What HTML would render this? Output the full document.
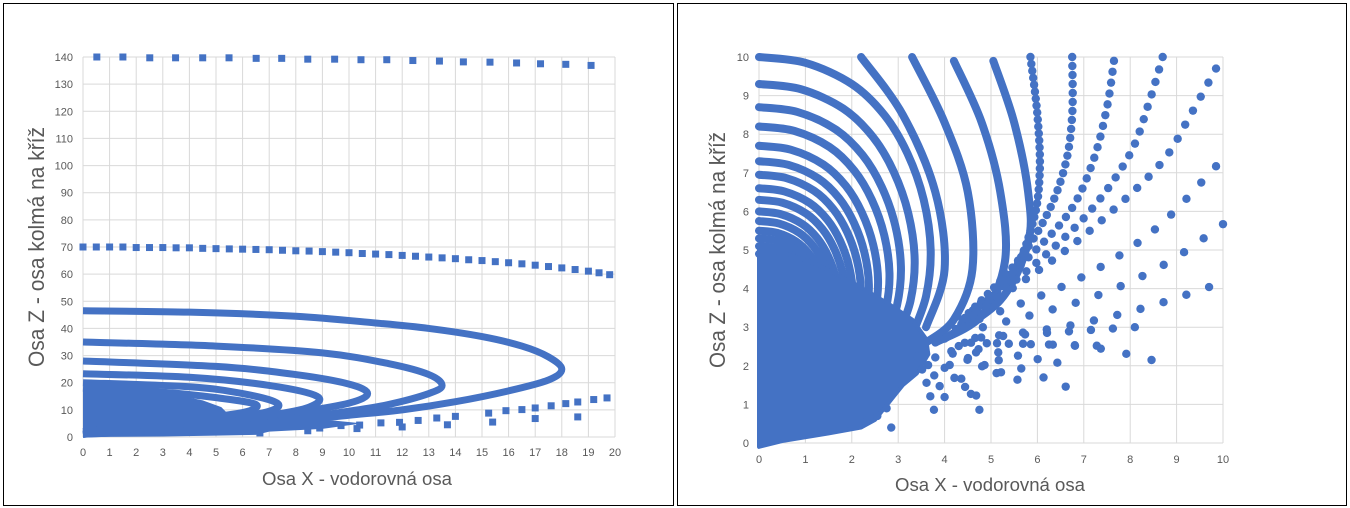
<!DOCTYPE html>
<html><head><meta charset="utf-8">
<style>
html,body{margin:0;padding:0;background:#fff;}
svg{display:block;font-family:"Liberation Sans",sans-serif;}
</style></head>
<body>
<svg id="chart" width="1350" height="508" viewBox="0 0 1350 508">
<rect x="0" y="0" width="1350" height="508" fill="#fff"/>
<rect x="3.5" y="3.5" width="670" height="502" fill="#fff" stroke="#000" stroke-width="1"/>
<rect x="677.5" y="3.5" width="669" height="502" fill="#fff" stroke="#000" stroke-width="1"/>
<g id="L"></g>
<g id="R"></g>
</svg>
<script>
// ---------- LEFT CHART DATA ----------
const leftXTicks = [0,1,2,3,4,5,6,7,8,9,10,11,12,13,14,15,16,17,18,19,20];
const leftZTicks = [0,10,20,30,40,50,60,70,80,90,100,110,120,130,140];
const topRowX = [0.52,1.5,2.51,3.48,4.5,5.49,6.51,7.47,8.45,9.46,10.45,11.42,12.4,13.4,14.3,15.3,16.3,17.2,18.15,19.1];
const topRowZ = [140,140,139.7,139.7,139.7,139.7,139.5,139.5,139.2,139.2,139,139,138.7,138.5,138.2,138.1,137.8,137.5,137.3,136.9];
const row70X = [0,0.5,1,1.5,2,2.5,3,3.5,4,4.5,5,5.5,6,6.5,7,7.5,8,8.5,9,9.5,10,10.5,11,11.5,12,12.5,13,13.5,14,14.5,15,15.5,16,16.5,17,17.5,18,18.5,19,19.4,19.8];
const row70Z = [70,70,70,70,69.8,69.8,69.8,69.7,69.7,69.5,69.4,69.3,69.2,69.1,69,68.8,68.6,68.5,68.3,68.1,67.9,67.6,67.4,67.2,66.9,66.6,66.3,66,65.7,65.3,65,64.6,64.2,63.8,63.3,62.8,62.3,61.7,61.1,60.5,59.8];
const loopsX = [
 [0,4,8,11,13,15,16.5,17.5,18,17.5,16,14,12,10,8,6,4,2,0],
 [0,5,9,11.5,13,13.5,13,11.5,10,8,6,4,2,0],
 [0,5,8,10,10.7,10,8,6,4,2,0],
 [0,4,7,8.8,8.5,7,5,3,0],
 [0,4,6,7.3,7,5.5,3,0],
 [0,3,5,6.5,6,4,0]
];
const loopsZ = [
 [46.5,46,44.5,42,40,37,33.5,29.5,25,21,17,13,10,8,6,4.5,3,2,1],
 [35,33.5,31,27,23,19,16,12,9.5,7,5,3.5,2,1],
 [28,26,23,19.5,16,12.5,9,6.5,4.5,2.5,1],
 [23.3,22,19,15,11,8,6,4,1],
 [20,18.5,16,12.5,9.5,7,4.5,1],
 [18,16.5,14.5,12,9,6.5,2]
];
const scatterX = [15.25,15.9,16.5,17.0,17.6,18.15,18.6,19.2,19.7,18.6,17.0,15.4,13.7,12.0,10.3,8.45,6.65,14.0,13.3,12.6,11.9,11.2,10.4,9.7,8.9];
const scatterZ = [8.8,9.7,10.1,10.7,11.5,12.3,12.9,13.8,14.4,7.4,6.8,5.5,4.5,3.7,3.1,2.3,1.5,7.6,7.0,6.1,5.4,5.2,4.4,4.2,3.3];
const blobLX = [0,0,2,3.5,4.5,5.2,5.5,6,8,9.5,10.5,9,7,7,6.5,5,3];
const blobLZ = [0,18,17,15.5,13.5,11,8,6,6.5,6,5,3,2,2,0.8,0.5,0.2];

// ---------- RIGHT CHART DATA ----------
const rightXTicks = [0,1,2,3,4,5,6,7,8,9,10];
const rightZTicks = [0,1,2,3,4,5,6,7,8,9,10];
const arcRefX = [0,1,2,2.7,3.2,3.55,3.7,3.6,3.3];
const arcRefZ = [10,9.85,9.3,8.5,7.5,6.3,5,3.8,2.8];
const arcStartZ = [10,9.3,8.7,8.2,7.7,7.3,6.95,6.6,6.3,6.0,5.75,5.5,5.3,5.1,4.9];
const raysX = [
 [2.2,3.1,3.8,4.0,3.6],
 [3.3,4.0,4.5,4.6,4.2,3.6],
 [4.2,4.8,5.2,5.3,4.8,3.8],
 [5.05,5.5,5.8,5.8,5.2,4.0],
 [5.85,6.0,6.05,5.9,5.4,4.2],
 [6.75,6.75,6.6,6.2,5.5,4.3],
 [7.65,7.5,7.2,6.7,5.8,4.4],
 [8.7,8.4,8.0,7.2,6.2,4.6],
 [9.85,9.3,8.7,7.6,6.4,4.6],
 [9.85,8.5,6.8,4.5],
 [10,8.7,7,4.5],
 [9.7,8.3,6.5,4.5],
 [8.46,7,4.5],
 [6.61,5.5,4.3],
 [4.75,4.4,3.9],
 [3.77,3.6,3.4],
 [8.1,6.8,4.4],
 [7.28,6.2,4.3],
 [6.43,5.4,4.1],
 [5.57,4.9,4.0],
 [5.12,4.6,3.9],
 [4.68,4.2,3.7],
 [4.0,3.8,3.5]
];
const raysZ = [
 [10,8.5,6.5,4.5,3.0],
 [10,8.3,6.5,4.5,3.2,2.6],
 [9.9,8.3,6.5,4.7,3.3,2.6],
 [9.9,8.3,6.5,5.2,3.7,2.7],
 [10,8.5,7,5.7,4.3,2.9],
 [10,8.5,7.2,5.9,4.6,3.1],
 [9.9,8.7,7.3,6.0,4.8,3.2],
 [10,8.8,7.5,6.1,4.9,3.3],
 [9.7,8.5,7.3,6.0,4.8,3.3],
 [7.17,5.5,4.2,3.1],
 [5.67,4.6,3.7,2.9],
 [4.04,3.5,3.0,2.7],
 [2.15,2.5,2.6],
 [1.46,2.0,2.5],
 [0.86,1.6,2.3],
 [0.86,1.6,2.3],
 [3.0,2.9,2.7],
 [2.52,2.55,2.6],
 [2.08,2.3,2.55],
 [1.64,2.0,2.45],
 [1.81,2.1,2.45],
 [1.23,1.7,2.35],
 [1.19,1.7,2.3]
];
const raySpacing = [0,0,0,0,7,9,11,13,16,22,24,24,26,24,18,14,22,22,20,18,16,14,12];
const hookX = [2.0,2.3,2.55,2.75,2.85];
const hookZ = [0.45,0.55,0.7,0.9,0.4];
const blobRX = [0,0,0.6,1.3,2.1,2.8,3.3,3.6,3.65,3.4,3.1,2.9,2.7,2.5,2.2,1.5,0.5,0];
const blobRZ = [-0.1,5.0,4.9,4.6,4.1,3.6,3.2,2.7,2.3,1.8,1.5,1.2,0.9,0.6,0.4,0.25,0.05,-0.1];

const NS = "http://www.w3.org/2000/svg";
const BLUE = "#4472c4";
function mk(tag, attrs, parent){ const e=document.createElementNS(NS,tag); for(const k in attrs) e.setAttribute(k,attrs[k]); parent.appendChild(e); return e; }
function catmull(pts){
  let d = "M"+pts[0][0]+","+pts[0][1];
  for(let i=0;i<pts.length-1;i++){
    const p0=pts[Math.max(0,i-1)], p1=pts[i], p2=pts[i+1], p3=pts[Math.min(pts.length-1,i+2)];
    const c1=[p1[0]+(p2[0]-p0[0])/6, p1[1]+(p2[1]-p0[1])/6];
    const c2=[p2[0]-(p3[0]-p1[0])/6, p2[1]-(p3[1]-p1[1])/6];
    d+=" C"+c1[0]+","+c1[1]+" "+c2[0]+","+c2[1]+" "+p2[0]+","+p2[1];
  }
  return d;
}

// ---------- LEFT ----------
(function(){
  const g = document.getElementById("L");
  const X = x => 83 + x*26.6, Z = z => 437 - z*(380/140);
  const grid = mk("g",{},g);
  
  
  leftXTicks.forEach(t=>{ mk("line",{x1:X(t),x2:X(t),y1:Z(140),y2:Z(0),stroke:"#d9d9d9","stroke-width":1},grid);
    const tx = mk("text",{x:X(t),y:456,"text-anchor":"middle","font-size":11,fill:"#595959"},g); tx.textContent=t;
    
    
  });
  leftZTicks.forEach(t=>{ mk("line",{x1:X(0),x2:X(20),y1:Z(t),y2:Z(t),stroke:"#d9d9d9","stroke-width":1},grid);
    const tx = mk("text",{x:73,y:Z(t)+4,"text-anchor":"end","font-size":11,fill:"#595959"},g); tx.textContent=t;
    
    
  });
  const s = mk("g",{fill:BLUE},g);
  
  
  const bp = blobLX.map((x,i)=>X(x)+","+Z(blobLZ[i])).join(" ");
  const blob = mk("polygon",{points:bp,fill:BLUE},s);
  
  
  loopsX.forEach((lx,j)=>{
    const pts = lx.map((x,i)=>[X(x),Z(loopsZ[j][i])]);
    const p = mk("path",{d:catmull(pts),fill:"none",stroke:BLUE,"stroke-width":7},s);
    
    
  });
  function sq(x,z,name){ const r=mk("rect",{x:X(x)-3.5,y:Z(z)-3.5,width:7,height:7},s);
    
     }
  topRowX.forEach((x,i)=>sq(x,topRowZ[i],'top-row-point'));
  row70X.forEach((x,i)=>sq(x,row70Z[i],'row-70-point'));
  scatterX.forEach((x,i)=>sq(x,scatterZ[i],'lower-scatter-point'));
  const xt = mk("text",{x:357,y:485,"text-anchor":"middle","font-size":18,fill:"#595959",textLength:190,lengthAdjust:"spacingAndGlyphs"},g);
  xt.textContent="Osa X - vodorovná osa";
  
  
  const yt = mk("text",{x:0,y:0,"text-anchor":"middle","font-size":22,fill:"#595959",textLength:240,lengthAdjust:"spacingAndGlyphs",transform:"translate(44,247) rotate(-90)"},g);
  yt.textContent="Osa Z - osa kolmá na kříž";
  
  
})();

// ---------- RIGHT ----------
(function(){
  const g = document.getElementById("R");
  const X = x => 759 + x*46.4, Z = z => 443 - z*38.6;
  const grid = mk("g",{},g);
  
  
  rightXTicks.forEach(t=>{ mk("line",{x1:X(t),x2:X(t),y1:Z(10),y2:Z(0),stroke:"#d9d9d9","stroke-width":1},grid);
    const tx = mk("text",{x:X(t),y:463,"text-anchor":"middle","font-size":11,fill:"#595959"},g); tx.textContent=t;
    
    
  });
  rightZTicks.forEach(t=>{ mk("line",{x1:X(0),x2:X(10),y1:Z(t),y2:Z(t),stroke:"#d9d9d9","stroke-width":1},grid);
    const tx = mk("text",{x:749,y:Z(t)+4,"text-anchor":"end","font-size":11,fill:"#595959"},g); tx.textContent=t;
    
    
  });
  const s = mk("g",{fill:BLUE},g);
  
  
  arcStartZ.forEach(z0=>{
    const k=(z0-2.5)/7.5;
    const pts = arcRefX.map((x,i)=>[X(x*k), Z(2.5+(arcRefZ[i]-2.5)*k)]);
    const p = mk("path",{d:catmull(pts),fill:"none",stroke:BLUE,"stroke-width":8,"stroke-linecap":"round"},s);
    
    
  });
  const bp = blobRX.map((x,i)=>X(x)+","+Z(blobRZ[i])).join(" ");
  const blob = mk("polygon",{points:bp,fill:BLUE,stroke:BLUE,"stroke-width":4,"stroke-linejoin":"round"},s);
  
  
  hookX.forEach((x,i)=>{
    const c = mk("circle",{cx:X(x),cy:Z(hookZ[i]),r:4.2},s);
    
    
  });
  raysX.forEach((rx,j)=>{
    const pts = rx.map((x,i)=>[X(x),Z(raysZ[j][i])]);
    const d = catmull(pts);
    if(raySpacing[j]===0){
      const p = mk("path",{d:d,fill:"none",stroke:BLUE,"stroke-width":8,"stroke-linecap":"round"},s);
      
      
    } else {
      const tmp = mk("path",{d:d,fill:"none",stroke:"none"},s);
      const L = tmp.getTotalLength();
      for(let l=0;l<=L;l+=raySpacing[j]){
        const pt = tmp.getPointAtLength(l);
        const c = mk("circle",{cx:pt.x,cy:pt.y,r:4.2},s);
        
        
      }
      s.removeChild(tmp);
    }
  });
  const xt = mk("text",{x:990,y:491,"text-anchor":"middle","font-size":18,fill:"#595959",textLength:190,lengthAdjust:"spacingAndGlyphs"},g);
  xt.textContent="Osa X - vodorovná osa";
  
  
  const yt = mk("text",{x:0,y:0,"text-anchor":"middle","font-size":22,fill:"#595959",textLength:236,lengthAdjust:"spacingAndGlyphs",transform:"translate(725,250) rotate(-90)"},g);
  yt.textContent="Osa Z - osa kolmá na kříž";
  
  
})();
</script>
</body></html>
